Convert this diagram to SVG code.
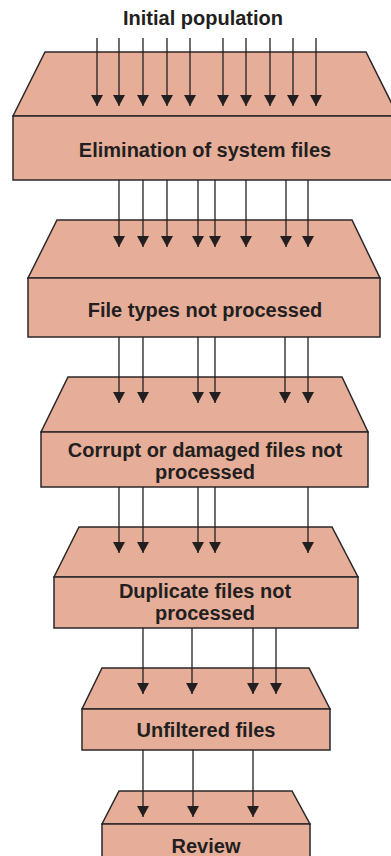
<svg xmlns="http://www.w3.org/2000/svg" width="391" height="856" viewBox="0 0 391 856">
  <style>
    .box { fill: #e6ae99; stroke: #2b2728; stroke-width: 1.5; stroke-linejoin: miter; }
    .lbl { font-family: "Liberation Sans", Arial, sans-serif; font-weight: bold; font-size: 20px; fill: #231f20; text-anchor: middle; }
    .flow line { stroke: #231f20; stroke-width: 1.3; marker-end: url(#head); }
  </style>
  <defs>
    <marker id="head" viewBox="0 0 11 12" refX="11" refY="6" markerWidth="11" markerHeight="12" markerUnits="userSpaceOnUse" orient="auto">
      <path d="M0,0 L11,6 L0,12 Z" fill="#231f20"/>
    </marker>
  </defs>

  <rect width="391" height="856" fill="#ffffff"/>

  <text class="lbl" x="203" y="25">Initial population</text>

  <!-- filter stages: sloped top face over a front face -->
  <g id="stage-system">
    <polygon class="box" points="45,52 366,52 398,116 13,116"/>
    <rect class="box" x="13" y="116" width="385" height="64"/>
    <text class="lbl" x="205" y="157">Elimination of system files</text>
  </g>

  <g id="stage-types">
    <polygon class="box" points="57,220 352,220 380,278 28,278"/>
    <rect class="box" x="28" y="278" width="352" height="59"/>
    <text class="lbl" x="205" y="317">File types not processed</text>
  </g>

  <g id="stage-corrupt">
    <polygon class="box" points="68,377 342,377 368,432 41,432"/>
    <rect class="box" x="41" y="432" width="327" height="55"/>
    <text class="lbl" x="205" y="457">Corrupt or damaged files not</text>
    <text class="lbl" x="205" y="479">processed</text>
  </g>

  <g id="stage-duplicate">
    <polygon class="box" points="79,527 332,527 358,577 54,577"/>
    <rect class="box" x="54" y="577" width="304" height="51"/>
    <text class="lbl" x="205" y="598">Duplicate files not</text>
    <text class="lbl" x="205" y="620">processed</text>
  </g>

  <g id="stage-unfiltered">
    <polygon class="box" points="102,668 309,668 330,709 82,709"/>
    <rect class="box" x="82" y="709" width="248" height="41"/>
    <text class="lbl" x="206" y="737">Unfiltered files</text>
  </g>

  <g id="stage-review">
    <polygon class="box" points="119,791 292,791 310,824 102,824"/>
    <rect class="box" x="102" y="824" width="208" height="50"/>
    <text class="lbl" x="206" y="853">Review</text>
  </g>

  <!-- file streams passing between stages -->
  <g id="connectors" class="flow">
    <line x1="97" y1="38" x2="97" y2="106"/>
    <line x1="119" y1="38" x2="119" y2="106"/>
    <line x1="143" y1="38" x2="143" y2="106"/>
    <line x1="167" y1="38" x2="167" y2="106"/>
    <line x1="190" y1="38" x2="190" y2="106"/>
    <line x1="223" y1="38" x2="223" y2="106"/>
    <line x1="246" y1="38" x2="246" y2="106"/>
    <line x1="270" y1="38" x2="270" y2="106"/>
    <line x1="293" y1="38" x2="293" y2="106"/>
    <line x1="316" y1="38" x2="316" y2="106"/>

    <line x1="119" y1="180" x2="119" y2="247"/>
    <line x1="143" y1="180" x2="143" y2="247"/>
    <line x1="167" y1="180" x2="167" y2="247"/>
    <line x1="198" y1="180" x2="198" y2="247"/>
    <line x1="215" y1="180" x2="215" y2="247"/>
    <line x1="246" y1="180" x2="246" y2="247"/>
    <line x1="286" y1="180" x2="286" y2="247"/>
    <line x1="308" y1="180" x2="308" y2="247"/>

    <line x1="119" y1="337" x2="119" y2="403"/>
    <line x1="143" y1="337" x2="143" y2="403"/>
    <line x1="198" y1="337" x2="198" y2="403"/>
    <line x1="215" y1="337" x2="215" y2="403"/>
    <line x1="285" y1="337" x2="285" y2="403"/>
    <line x1="308" y1="337" x2="308" y2="403"/>

    <line x1="119" y1="487" x2="119" y2="553"/>
    <line x1="143" y1="487" x2="143" y2="553"/>
    <line x1="198" y1="487" x2="198" y2="553"/>
    <line x1="215" y1="487" x2="215" y2="553"/>
    <line x1="308" y1="487" x2="308" y2="553"/>

    <line x1="143" y1="628" x2="143" y2="694"/>
    <line x1="192" y1="628" x2="192" y2="694"/>
    <line x1="253" y1="628" x2="253" y2="694"/>
    <line x1="276" y1="628" x2="276" y2="694"/>

    <line x1="143" y1="750" x2="143" y2="817"/>
    <line x1="193" y1="750" x2="193" y2="817"/>
    <line x1="253" y1="750" x2="253" y2="817"/>
  </g>
</svg>
